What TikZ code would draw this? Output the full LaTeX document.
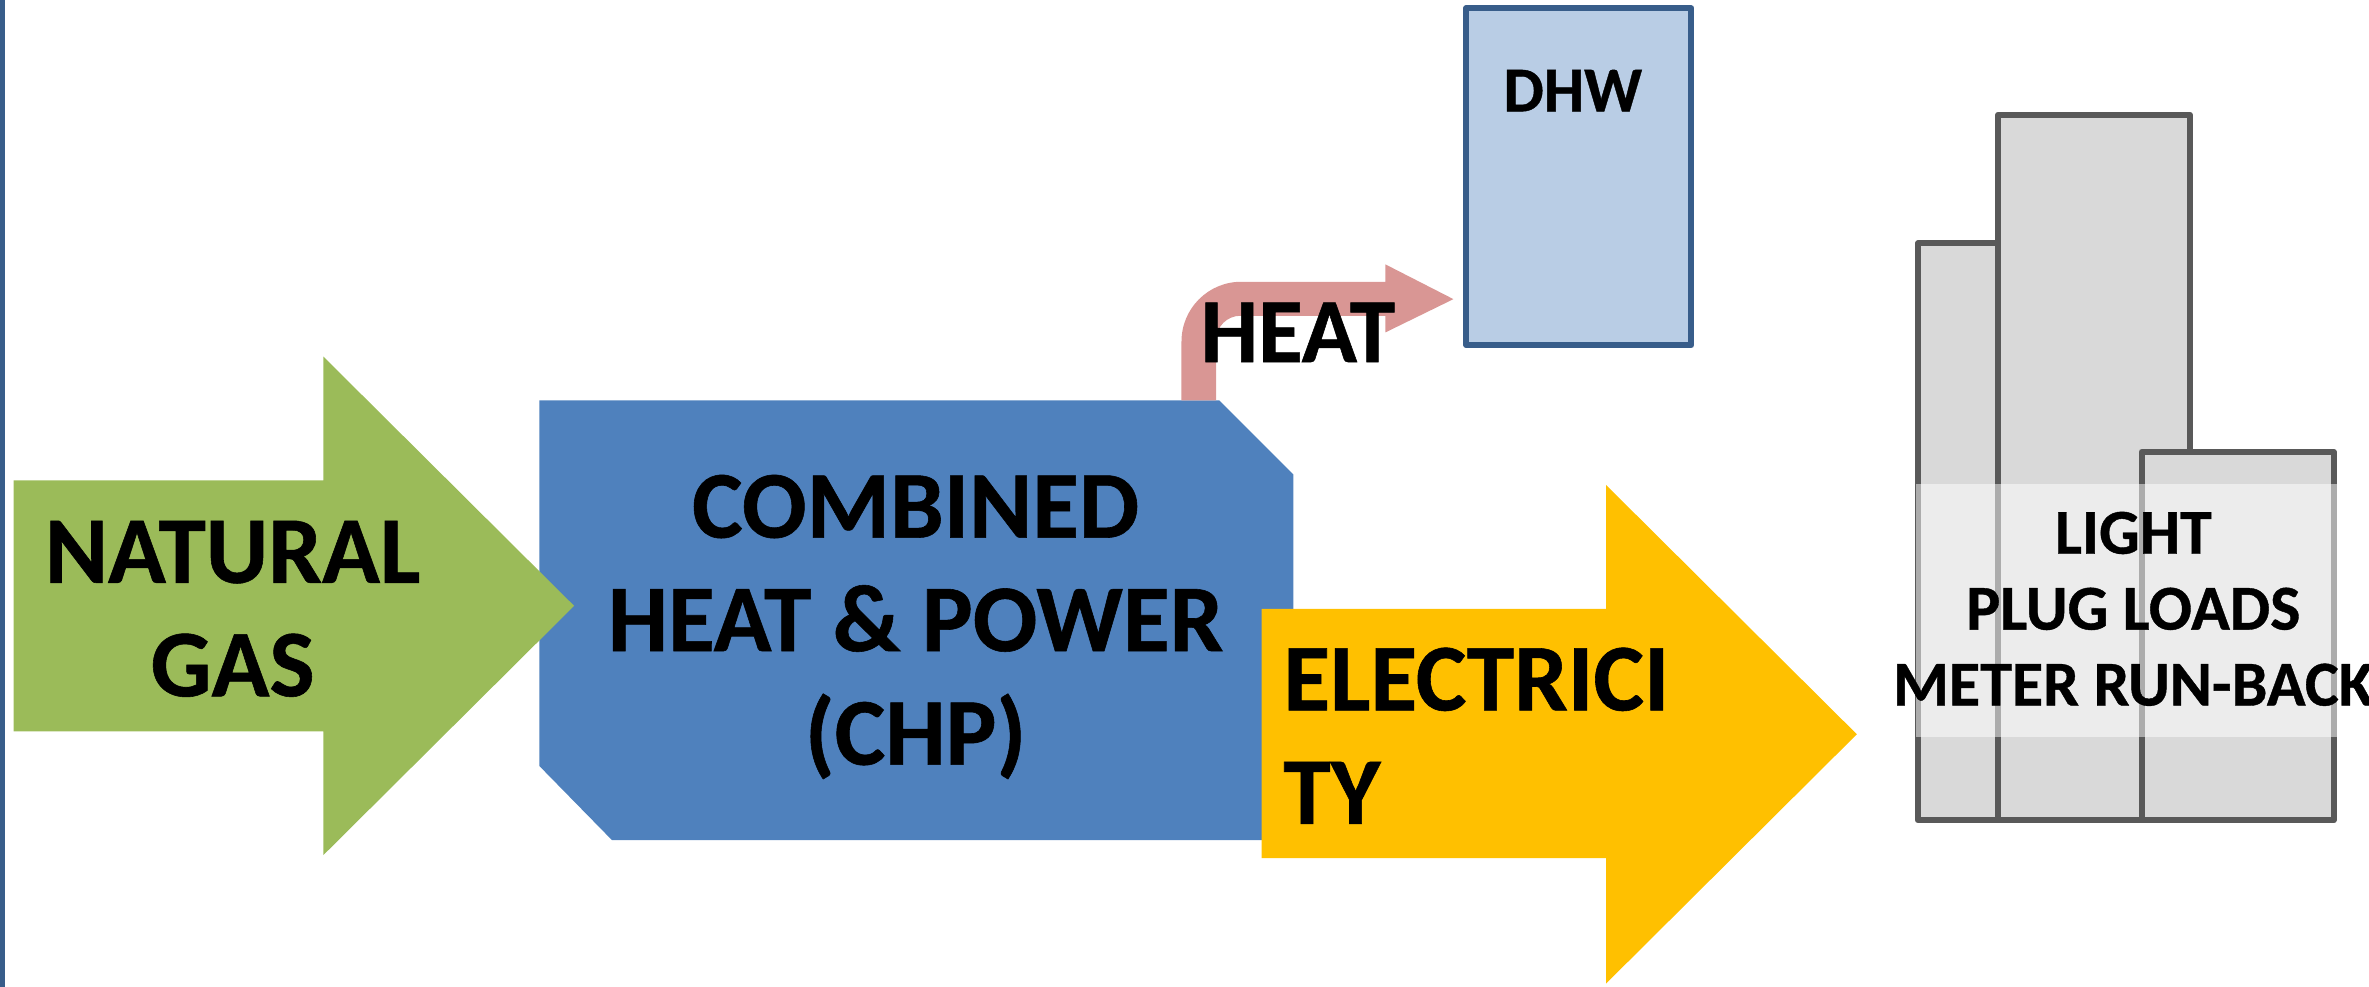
\documentclass[tikz,border=0pt]{standalone}
\usepackage{fontspec}
\setmainfont{Carlito}[BoldFeatures={FakeBold=0.6}]
\usepackage{xcolor}
\usetikzlibrary{positioning,calc}
\tikzset{>=latex}
\definecolor{gasgreen}{HTML}{9BBB59}
\definecolor{chpblue}{HTML}{4F81BD}
\definecolor{elecyellow}{HTML}{FFC000}
\definecolor{heatred}{HTML}{D99694}
\definecolor{dhwblue}{HTML}{B9CDE5}
\definecolor{dhwline}{HTML}{385D8A}
\definecolor{loadgray}{HTML}{D9D9D9}
\definecolor{loadline}{HTML}{595959}
\tikzset{
  biglabel/.style={font=\fontsize{27.2}{32.3}\selectfont\bfseries, text=black, inner sep=0pt, align=center},
  smalllabel/.style={font=\fontsize{18.2}{21.6}\selectfont\bfseries, text=black, inner sep=0pt, align=center},
  loadbox/.style={draw=loadline, fill=loadgray, line width=1.7pt, line join=round},
}
\begin{document}
\begin{tikzpicture}[x=0.1511mm, y=-0.1511mm]
\useasboundingbox (0,0) rectangle (1568,653.2);
% left edge
\fill[dhwline] (0,0) rectangle (3,653.2);
% CHP block
\fill[chpblue] (357,265) -- (807,265) -- (856,314) -- (856,556) -- (405,556) -- (357,507) -- cycle;
% gas and electricity arrows
\fill[gasgreen] (9,318) -- (214,318) -- (214,236) -- (380,401) -- (214,566) -- (214,484) -- (9,484) -- cycle;
\fill[elecyellow] (835,403) -- (1063,403) -- (1063,321) -- (1229,486) -- (1063,651) -- (1063,568) -- (835,568) -- cycle;
% heat arrow
\fill[heatred] (782,265) -- (782,226) arc[start angle=180, end angle=270, radius=39.5] -- (917,186.5) -- (917,175) -- (962,198) -- (917,220) -- (917,209) -- (821,209) arc[start angle=270, end angle=180, radius=16] -- (805,265) -- cycle;
% DHW tank
\draw[dhwline, fill=dhwblue, line width=1.7pt, line join=round] (970.5,5.5) rectangle (1119.5,228.5);
% loads
\draw[loadbox] (1269.5,161) rectangle (1322.5,543);
\draw[loadbox] (1322.5,76) rectangle (1449.5,543);
\draw[loadbox] (1417.5,299) rectangle (1544.5,543);
\fill[white, fill opacity=0.5] (1268,320.3) rectangle (1546.5,487.7);
% labels
\node[biglabel] (gas) at (154,403) {NATURAL\\GAS};
\node[biglabel] (chp) at (606,415) {COMBINED\\HEAT \& POWER\\(CHP)};
\node[biglabel, align=left, anchor=west] (elec) at (849,487) {ELECTRICI\\TY};
\node[biglabel, font=\fontsize{26}{32}\selectfont\bfseries] (heat) at (859,220) {HEAT};
\node[smalllabel] (dhw) at (1041,60) {DHW};
\node[smalllabel] (load) at (1412,403) {LIGHT\\PLUG LOADS\\METER RUN-BACK};
\end{tikzpicture}
\end{document}
